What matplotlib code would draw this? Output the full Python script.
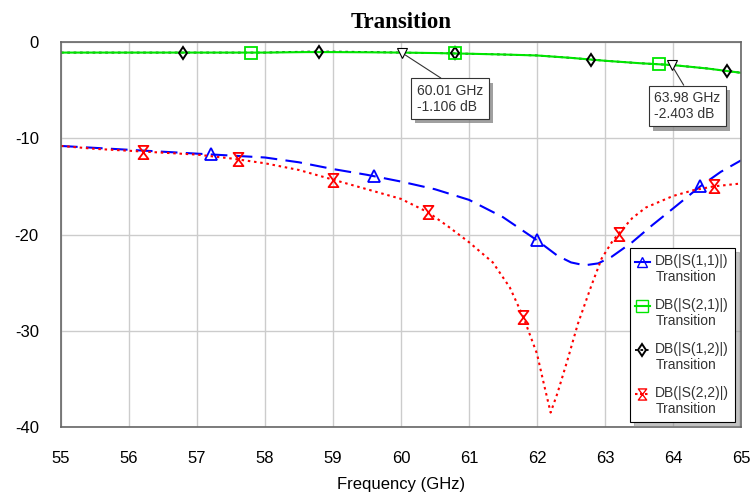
import matplotlib
matplotlib.use('Agg')
import matplotlib.pyplot as plt
import matplotlib.patheffects as pe
from matplotlib.path import Path
from matplotlib.legend_handler import HandlerLine2D
import numpy as np

# S11 (blue dashed)
f11 = [55, 55.5, 56, 56.5, 57, 57.5, 58, 58.5, 59, 59.5, 60, 60.5, 61, 61.5, 62,
       62.3, 62.5, 62.7, 62.9, 63.1, 63.4, 63.7, 64.0, 64.4, 64.7, 65.0]
s11 = [-10.8, -11.0, -11.2, -11.4, -11.6, -11.8, -12.0, -12.5, -13.2, -13.8, -14.5,
       -15.3, -16.4, -18.2, -20.6, -22.2, -22.9, -23.2, -23.0, -22.3, -20.8, -19.0,
       -17.3, -15.0, -13.5, -12.3]
m11 = [57.2, 59.6, 62.0, 64.4]

# S21 (green solid)
f21 = [55, 56, 57, 58, 58.6, 59, 59.5, 60, 60.5, 61, 61.5, 62, 62.5, 63, 63.5, 64, 64.5, 65]
s21 = [-1.1, -1.1, -1.1, -1.1, -1.05, -1.05, -1.07, -1.1, -1.15, -1.22, -1.3, -1.4,
       -1.65, -1.95, -2.2, -2.4, -2.75, -3.2]
m21 = [57.8, 60.8, 63.8]

# S12 (black dotted, sits under S21)
f12 = [55, 56, 57, 58, 58.6, 59, 59.3, 60, 60.5, 61, 61.5, 62, 62.5, 63, 63.5, 64, 64.5, 65]
s12 = [-1.1, -1.1, -1.1, -1.1, -1.0, -1.0, -1.02, -1.1, -1.15, -1.22, -1.3, -1.4,
       -1.65, -1.95, -2.2, -2.4, -2.75, -3.2]
m12 = [56.8, 58.8, 60.8, 62.8, 64.8]

# S22 (red dotted)
f22 = [55, 55.5, 56, 56.5, 57, 57.5, 58, 58.5, 59, 59.5, 60, 60.4, 60.7, 61.0, 61.35,
       61.6, 61.8, 62.0, 62.1, 62.2, 62.3, 62.45, 62.6, 62.8, 62.95, 63.1, 63.2, 63.4,
       63.6, 64.0, 64.3, 64.6, 65.0]
s22 = [-10.8, -11.1, -11.3, -11.5, -11.7, -12.1, -12.6, -13.3, -14.3, -15.3, -16.3,
       -17.7, -19.2, -20.8, -22.9, -25.5, -28.6, -32.4, -35.5, -38.5, -36.5, -33.0,
       -29.3, -25.3, -22.5, -20.8, -19.9, -18.3, -17.2, -16.0, -15.4, -15.0, -14.7]
m22 = [56.2, 57.6, 59.0, 60.4, 61.8, 63.2, 64.6]

mark_f = [60.01, 63.98]
mark_db = [-1.106, -2.403]
mark_txt = ['60.01 GHz\n-1.106 dB', '63.98 GHz\n-2.403 dB']
box_pos = [(60.72, -5.9), (64.21, -6.65)]

hourglass = Path([(-0.75, 1), (0.75, 1), (-0.75, -1), (0.75, -1), (-0.75, 1)],
                 [Path.MOVETO, Path.LINETO, Path.LINETO, Path.LINETO, Path.CLOSEPOLY])


class TopLineHandler(HandlerLine2D):
    # put the legend symbol on the first line of a two-line label
    def create_artists(self, legend, orig_handle, xdescent, ydescent, width, height, fontsize, trans):
        return super().create_artists(legend, orig_handle, xdescent, ydescent - 1.1 * fontsize,
                                      width, height, fontsize, trans)


plt.rcParams['font.family'] = ['Liberation Sans', 'DejaVu Sans']
plt.rcParams['axes.unicode_minus'] = False
fig = plt.figure(figsize=(7.52, 4.94), dpi=100)
ax = fig.add_axes([0.0811, 0.1356, 0.9043, 0.7794])

blue = '#0000ff'
green = '#00e600'
red = '#ff0000'

ax.plot(f11, s11, color=blue, lw=1.5, dashes=(8, 4))
ax.plot(m11, np.interp(m11, f11, s11), ls='none', marker='^', ms=8.5,
        mfc='none', mec=blue, mew=1.3)
ax.plot(f12, s12, color='black', lw=1.3, dashes=(1.5, 2))
ax.plot(f21, s21, color=green, lw=1.5)
ax.plot(m12, np.interp(m12, f12, s12), ls='none', marker='d', ms=6.5,
        mfc='none', mec='black', mew=1.4)
ax.plot(m21, np.interp(m21, f21, s21), ls='none', marker='s', ms=8.5,
        mfc='none', mec=green, mew=1.3)
ax.plot(f22, s22, color=red, lw=1.5, dashes=(1.2, 1.8))
ax.plot(m22, np.interp(m22, f22, s22), ls='none', marker=hourglass, ms=9.5,
        mfc='none', mec=red, mew=1.3)

# marker readouts
ax.plot(mark_f, mark_db, ls='none', marker='v', ms=7, mfc='white', mec='black', mew=0.8, zorder=5)
for fx, db, txt, (bx, by) in zip(mark_f, mark_db, mark_txt, box_pos):
    t = ax.annotate(txt, xy=(fx, db), xytext=(bx, by), fontsize=10, color='#333333',
                    ha='center', va='center', multialignment='left', linespacing=1.15,
                    bbox=dict(boxstyle='square,pad=0.4', fc='white', ec='#333333', lw=0.8),
                    arrowprops=dict(arrowstyle='-', color='#333333', lw=0.8, relpos=(0.5, 1),
                                    shrinkA=0, shrinkB=3), zorder=6)
    t.get_bbox_patch().set_path_effects([pe.SimplePatchShadow(offset=(3, -3), shadow_rgbFace='#888888', alpha=0.8),
                                         pe.Normal()])

# legend
labels = ['DB(|S(1,1)|)\nTransition', 'DB(|S(2,1)|)\nTransition',
          'DB(|S(1,2)|)\nTransition', 'DB(|S(2,2)|)\nTransition']
handles = [
    plt.Line2D([], [], color=blue, lw=1.5, marker='^', ms=7.5, mfc='none', mec=blue),
    plt.Line2D([], [], color=green, lw=1.5, marker='s', ms=8, mfc='none', mec=green),
    plt.Line2D([], [], color='black', lw=1.3, dashes=(1.5, 1.5), marker='d', ms=6, mfc='none', mec='black', mew=1.4),
    plt.Line2D([], [], color=red, lw=1.5, dashes=(1.2, 1.2), marker=hourglass, ms=8, mfc='none', mec=red),
]
leg = ax.legend(handles, labels, loc='lower right', bbox_to_anchor=(0.991, 0.014),
                borderaxespad=0, handler_map={plt.Line2D: TopLineHandler()},
                fontsize=10, handlelength=1.05, handletextpad=0.4, labelspacing=1.0,
                borderpad=0.4, fancybox=False, framealpha=1, edgecolor='black',
                shadow={'ox': 3, 'oy': -3, 'color': '#888888'})
leg.get_frame().set_linewidth(0.8)
for txt in leg.get_texts():
    txt.set_color('#333333')

ax.set_xlim(55, 65)
ax.set_ylim(-40, 0)
ax.set_xticks(range(55, 66))
ax.set_yticks([0, -10, -20, -30, -40])
ax.tick_params(length=0, labelsize=12)
ax.tick_params(axis='x', pad=17.5)
ax.tick_params(axis='y', pad=16)
ax.grid(True, color='#cccccc', lw=1)
ax.set_axisbelow(True)
for sp in ax.spines.values():
    sp.set_color('#666666')
    sp.set_linewidth(1.2)

ax.set_xlabel('Frequency (GHz)', fontsize=12, labelpad=7.5)
fig.text(0.533, 0.955, 'Transition', fontsize=16.5, fontweight='bold',
         family='Liberation Serif', ha='center', va='center')

fig.savefig('out.png', dpi=100)
